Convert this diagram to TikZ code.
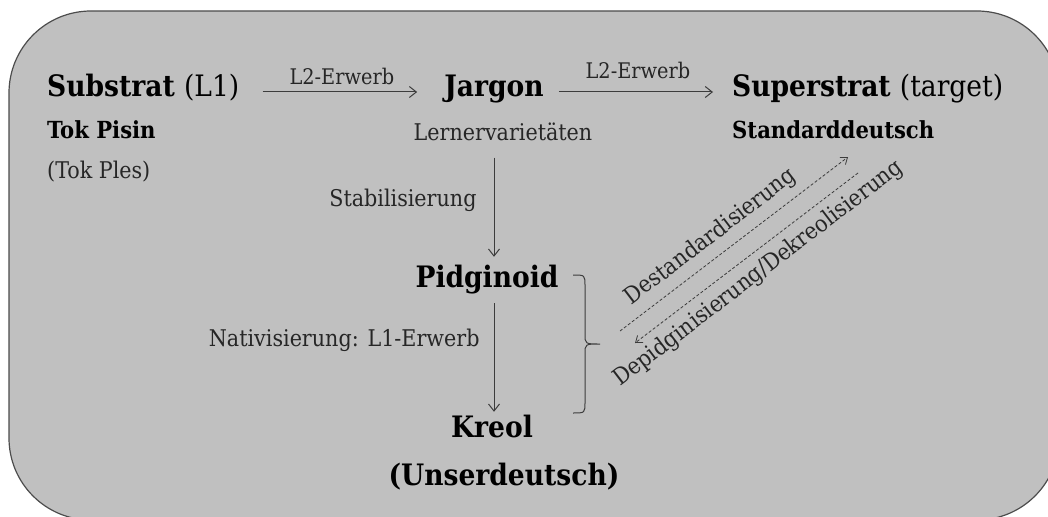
\documentclass[tikz,border=0pt]{standalone}
\usepackage{fontspec}
\setmainfont{DejaVu Serif Condensed}
\usetikzlibrary{positioning,arrows.meta}
\definecolor{boxgray}{RGB}{192,192,192}
\definecolor{inkgray}{RGB}{60,60,60}
\newcommand{\bigsize}{\fontsize{29.5}{34}\selectfont}
\newcommand{\midsize}{\fontsize{23.5}{28}\selectfont}
\newcommand{\regsize}{\fontsize{23}{27}\selectfont}
\newcommand{\lblsize}{\fontsize{21.5}{25}\selectfont}

\begin{document}
\begin{tikzpicture}[x=1pt,y=-1pt,
  main node/.style={font=\bigsize\bfseries, inner sep=0pt, text height=20pt, text depth=10pt},
  sub node/.style={font=\midsize\bfseries, inner sep=0pt},
  note node/.style={font=\regsize, inner sep=0pt, text=black!85},
  lbl node/.style={font=\lblsize, inner sep=0pt, text=black!85},
  every edge/.style={draw, inkgray, line width=1pt, -{Straight Barb[length=7pt,width=11pt]}}]
  \useasboundingbox (0,0) rectangle (1048,516);
  \draw[fill=boxgray, draw=black!70, line width=1.2pt, rounded corners=82pt] (9,11) rectangle (1059,520);

  \node[main node, anchor=base west] (1) at (47,97) {Substrat {\mdseries(L1)}};
  \node[sub node, anchor=base west] (1a) at (47,139) {Tok Pisin};
  \node[note node, anchor=base west] (1b) at (47,178) {(Tok Ples)};
  \node[main node, anchor=base] (2) at (494,97) {Jargon};
  \node[note node, anchor=base] (2a) at (503,140) {Lernervarietäten};
  \node[main node, anchor=base west] (3) at (732,96) {Superstrat {\mdseries(target)}};
  \node[sub node, anchor=base west] (3a) at (732,139) {Standarddeutsch};
  \node[main node, anchor=base] (4) at (487,287) {Pidginoid};
  \node[main node, anchor=base] (5) at (492,437) {Kreol};
  \node[main node, anchor=base] (5a) at (504,485) {(Unserdeutsch)};

  \coordinate (b1) at (573,275);
  \coordinate (bt) at (600,344);
  \coordinate (b2) at (573,413);
  \coordinate (d1) at (620,331);
  \coordinate (d2) at (848,157);
  \coordinate (d3) at (858,173);
  \coordinate (d4) at (635,343);

  \path
    (1.east) edge[shorten <=23pt, shorten >=27pt] node[lbl node, above=7pt] {L2-Erwerb} (1.east -| 2.west)
    (2.east) edge[shorten <=15pt, shorten >=19pt] node[lbl node, above=13pt] {L2-Erwerb} (2.east -| 3.west)
    (2 |- 2a.south) edge[shorten <=17pt, shorten >=10pt] node[note node, left=17pt, pos=0.47] {Stabilisierung} (2 |- 4.north)
    (2 |- 4.south) edge[shorten <=6pt, shorten >=5pt] node[note node, left=14pt, pos=0.36] {Nativisierung: L1-Erwerb} (2 |- 5.north);

  % bracket round Pidginoid and Kreol
  \draw[inkgray, line width=1pt]
    (b1) .. controls (585,275) .. (585,286) -- (585,334)
    .. controls (585,344) .. (bt)
    .. controls (585,344) .. (585,354) -- (585,402)
    .. controls (585,413) .. (b2);

  \path[every edge/.append style={dashed, dash pattern=on 3pt off 2pt, line width=0.8pt, -{Straight Barb[length=6pt,width=9pt]}}]
    (d1) edge node[note node, sloped, above=8pt, pos=0.45] {Destandardisierung} (d2)
    (d3) edge node[note node, sloped, below=8pt] {Depidginisierung/Dekreolisierung} (d4);
\end{tikzpicture}
\end{document}
